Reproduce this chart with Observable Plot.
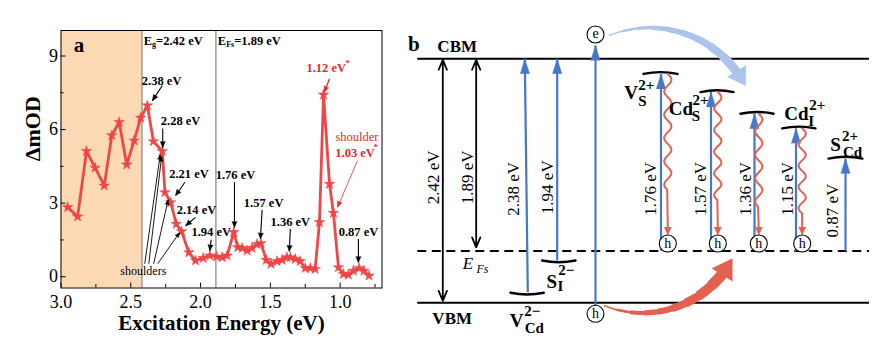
<!DOCTYPE html>
<html><head><meta charset="utf-8">
<script src="https://cdn.jsdelivr.net/npm/d3@7"></script>
<script src="https://cdn.jsdelivr.net/npm/@observablehq/plot@0.6"></script>
<style>
body{margin:0;background:#fff;}
#wrap{position:relative;width:889px;height:361px;overflow:hidden;background:#fff;}
#a{position:absolute;left:0;top:0;}
#b{position:absolute;left:400px;top:0;}
</style></head><body><div id="wrap"><div id="a"></div><div id="b"></div></div>
<script>
// ================= Panel a data =================
const energy = [2.952,2.881,2.817,2.755,2.690,2.636,2.583,2.529,2.476,2.429,2.381,2.338,2.274,2.255,2.214,2.174,2.136,2.084,2.036,1.981,1.933,1.886,1.845,1.810,1.762,1.733,1.702,1.666,1.631,1.595,1.567,1.529,1.495,1.452,1.416,1.381,1.357,1.321,1.286,1.250,1.214,1.179,1.148,1.119,1.076,1.048,1.012,0.976,0.941,0.905,0.864,0.829,0.793];
const deltaOD = [2.83,2.45,5.12,4.44,3.71,5.76,6.30,4.57,5.55,6.48,6.98,5.52,5.12,3.44,3.03,2.15,1.85,0.99,0.66,0.76,0.86,0.82,0.79,0.86,1.81,1.20,1.17,1.06,1.17,1.33,1.36,0.68,0.52,0.63,0.68,0.79,0.79,0.72,0.63,0.35,0.35,0.31,2.22,7.42,3.78,2.60,0.38,0.11,0.08,0.24,0.35,0.24,0.04];
const bandGap = 2.42, fermiGap = 1.89;
const xTicks = [3.0,2.5,2.0,1.5,1.0];
const xMinorTicks = [2.75,2.25,1.75,1.25,0.75];
const yTicks = [0,3,6,9];
const yMinorTicks = [1.5,4.5,7.5];
const peakLabels = [
  {t:"2.38 eV", x:2.279, y:8.0},
  {t:"2.28 eV", x:2.143, y:6.34},
  {t:"2.21 eV", x:2.083, y:4.19},
  {t:"2.14 eV", x:2.029, y:2.72},
  {t:"1.94 eV", x:1.924, y:1.81},
  {t:"1.76 eV", x:1.750, y:4.16},
  {t:"1.57 eV", x:1.548, y:3.01},
  {t:"1.36 eV", x:1.357, y:2.22},
  {t:"0.87 eV", x:0.869, y:1.84}
];
const peakArrows = [
  {x1:2.274,y1:7.80,x2:2.345,y2:7.18},
  {x1:2.271,y1:6.04,x2:2.271,y2:5.27},
  {x1:2.112,y1:3.85,x2:2.179,y2:3.31},
  {x1:2.036,y1:2.42,x2:2.107,y2:2.08},
  {x1:1.924,y1:1.51,x2:1.934,y2:1.06},
  {x1:1.757,y1:3.85,x2:1.757,y2:2.01},
  {x1:1.559,y1:2.72,x2:1.571,y2:1.54},
  {x1:1.357,y1:1.95,x2:1.364,y2:1.03},
  {x1:0.869,y1:1.54,x2:0.869,y2:0.58}
];
const shoulderLines = [
  {x1:2.400,y1:0.53,x2:2.289,y2:4.98},
  {x1:2.371,y1:0.53,x2:2.279,y2:4.90},
  {x1:2.336,y1:0.53,x2:2.232,y2:3.14},
  {x1:2.307,y1:0.53,x2:2.150,y2:1.80}
];
const redArrows = [
  {x1:1.076,y1:8.07,x2:1.114,y2:7.52,w:1.3},
  {x1:0.876,y1:4.73,x2:1.019,y2:2.83,w:0.8}
];
const redLabels = [
  {t:"1.12 eV", x:1.100, y:8.51, bold:true, size:12.5},
  {t:"*", x:0.945, y:8.72, bold:true, size:9},
  {t:"shoulder", x:0.879, y:5.71, bold:false, size:12.5},
  {t:"1.03 eV", x:0.893, y:5.06, bold:true, size:12.5},
  {t:"*", x:0.745, y:5.27, bold:true, size:9}
];
const headerLabels = [
  {main:"E", sub:"g", rest:"=2.42 eV", x:2.407, y:9.63, subW:4},
  {main:"E", sub:"Fs", rest:"=1.89 eV", x:1.876, y:9.63, subW:8}
];

// ================= Panel b data =================
const bandEdges = [{name:"CBM", E:2.42}, {name:"VBM", E:0}];
const fermiLevel = 0.515;
const diagramSpan = {x1:17.3, x2:469};
const bandLabels = [{t:"CBM", x:56.7, E:2.54}, {t:"VBM", x:51.7, E:-0.156}];
const gapArrows = [
  {label:"2.42 eV", x:42.3, top:2.41, bottom:0.02, lx:33.3, lE:1.245},
  {label:"1.89 eV", x:75.7, top:2.41, bottom:0.55, lx:66.7, lE:1.245}
];
const absorptions = [
  {label:"2.38 eV", x1:127.3, E1:0.105, x2:124.3, E2:2.42, lx:113.3, lE:1.13},
  {label:"1.94 eV", x1:156.7, E1:0.42, x2:156.7, E2:2.42, lx:146.7, lE:1.146},
  {label:"", x1:195, E1:-0.03, x2:195, E2:2.552, lx:195, lE:1},
  {label:"1.76 eV", x1:260.5, E1:0.515, x2:260.5, E2:2.27, lx:250, lE:1.13},
  {label:"1.57 eV", x1:310.5, E1:0.515, x2:310.5, E2:2.09, lx:300, lE:1.13},
  {label:"1.36 eV", x1:354, E1:0.515, x2:354, E2:1.875, lx:345, lE:1.13},
  {label:"1.15 eV", x1:395.5, E1:0.515, x2:395.5, E2:1.73, lx:386.7, lE:1.13},
  {label:"0.87 eV", x1:445, E1:0.515, x2:445, E2:1.43, lx:432.5, lE:0.915}
];
const defectLevels = [
  {name:"VCd", x1:110, x2:143.3, E:0.10, acceptor:true},
  {name:"SI", x1:141.7, x2:175, E:0.42, acceptor:true},
  {name:"VS", x1:243, x2:277, E:2.27, acceptor:false},
  {name:"CdS", x1:300, x2:333, E:2.09, acceptor:false},
  {name:"X", x1:340, x2:373, E:1.875, acceptor:false},
  {name:"CdI", x1:381.7, x2:415, E:1.73, acceptor:false},
  {name:"SCd", x1:428, x2:462, E:1.43, acceptor:false}
];
const defectLabelParts = [
  {t:"V", x:116, E:-0.18, size:19}, {t:"2−", x:131.7, E:-0.086, size:15}, {t:"Cd", x:133.8, E:-0.25, size:15},
  {t:"S", x:151.3, E:0.204, size:19}, {t:"2−", x:165.8, E:0.32, size:15}, {t:"I", x:160, E:0.162, size:15},
  {t:"V", x:230.7, E:2.084, size:19}, {t:"2+", x:245.7, E:2.158, size:15}, {t:"S", x:242, E:2.0, size:15},
  {t:"Cd", x:280.5, E:1.924, size:19}, {t:"2+", x:300, E:2.008, size:15}, {t:"S", x:295.3, E:1.85, size:15},
  {t:"Cd", x:395.8, E:1.877, size:19}, {t:"2+", x:416.7, E:1.96, size:15}, {t:"I", x:410.7, E:1.802, size:15},
  {t:"S", x:435, E:1.565, size:19}, {t:"2+", x:449.5, E:1.648, size:15}, {t:"Cd", x:452, E:1.49, size:15}
];
const carriers = [
  {t:"e", x:195, E:2.661}, {t:"h", x:195, E:-0.109},
  {t:"h", x:267.3, E:0.588}, {t:"h", x:317.3, E:0.588}, {t:"h", x:358.3, E:0.588}, {t:"h", x:401.7, E:0.588}
];
const relaxations = [
  {x:267.3, top:2.27, waveEnd:1.114, tip:0.672},
  {x:317.3, top:2.09, waveEnd:1.015, tip:0.672},
  {x:358.3, top:1.875, waveEnd:0.945, tip:0.672},
  {x:401.7, top:1.73, waveEnd:0.886, tip:0.672}
];
const transfers = [
  {x1:208.3, E1:2.65, x2:345, E2:2.155, bend:42, color:"#adc4ea", w0:1.5, w1:9, headLen:17, headHalf:11},
  {x1:203.3, E1:-0.027, x2:331.7, E2:0.436, bend:-42, color:"#e4604f", w0:1.5, w1:11, headLen:19, headHalf:12}
];

// ================= Rendering =================
const FONT = '"Liberation Serif","Times New Roman",serif';
const H = 361;
const RED = "#f04646", BLUE = "#4677c8", WAVE = "#e8604c", LABELRED = "#e8282b";

// ---- Panel a ----
const WA = 400;
const mA = {left:60.5, right:18.5, top:30, bottom:73.5};
const xDomA = [3.0, 0.70], yDomA = [-0.46, 10.04];
const sxA = Plot.scale({x:{domain:xDomA, range:[mA.left, WA - mA.right]}});
const syA = Plot.scale({y:{domain:yDomA, range:[H - mA.bottom, mA.top]}});
function rotOf(sx, sy, x1, y1, x2, y2) {
  const dx = sx.apply(x2) - sx.apply(x1), dy = sy.apply(y2) - sy.apply(y1);
  return Math.atan2(dx, -dy) * 180 / Math.PI;
}
const series = energy.map((e, i) => ({e, v: deltaOD[i]}));
const headA = (data, color, len, r) => Plot.vector(data, {
  x:"x2", y:"y2", rotate: d => rotOf(sxA, syA, d.x1, d.y1, d.x2, d.y2),
  length: len, r: r, shape: "spike", anchor: "end", fill: color, stroke: color, strokeWidth: 0.4
});

const plotA = Plot.plot({
  width: WA, height: H,
  marginLeft: mA.left, marginRight: mA.right, marginTop: mA.top, marginBottom: mA.bottom,
  style: {fontFamily: FONT, fontSize: "18px", color: "#000", background: "#fff"},
  x: {domain: xDomA, label: null},
  y: {domain: yDomA, label: null},
  marks: [
    Plot.rect([{x1: xDomA[0], x2: bandGap}], {x1:"x1", x2:"x2", fill:"#fdd9b5"}),
    Plot.ruleX([bandGap, fermiGap], {stroke:"#808080", strokeWidth:1.2}),
    Plot.ruleY(yTicks, {y: d => d, x1: xDomA[0], x2: xDomA[0] - 0.036, stroke:"#000"}),
    Plot.ruleY(yMinorTicks, {y: d => d, x1: xDomA[0], x2: xDomA[0] - 0.022, stroke:"#000"}),
    Plot.ruleX(xTicks, {x: d => d, y1: yDomA[0], y2: yDomA[0] + 0.2, stroke:"#000"}),
    Plot.ruleX(xMinorTicks, {x: d => d, y1: yDomA[0], y2: yDomA[0] + 0.14, stroke:"#000"}),
    Plot.axisX(xTicks, {tickSize: 0, tickPadding: 7, tickFormat: d3.format(".1f"), label: null, fontSize: 18}),
    Plot.axisY(yTicks, {tickSize: 0, tickPadding: 3, label: null, fontSize: 18}),
    Plot.frame({stroke:"#000", strokeWidth: 1}),
    Plot.line(series, {x:"e", y:"v", stroke: RED, strokeWidth: 2.8}),
    Plot.dot(series, {x:"e", y:"v", symbol:"star", r: 3.3, fill: RED, stroke: RED, strokeWidth: 0.5}),
    // annotations
    Plot.link(peakArrows, {x1:"x1", y1:"y1", x2:"x2", y2:"y2", stroke:"#000", strokeWidth: 1.1}),
    headA(peakArrows, "#000", 6, 2.6),
    Plot.link(shoulderLines, {x1:"x1", y1:"y1", x2:"x2", y2:"y2", stroke:"#000", strokeWidth: 0.9}),
    headA(shoulderLines, "#000", 5, 2),
    Plot.link(redArrows, {x1:"x1", y1:"y1", x2:"x2", y2:"y2", stroke: LABELRED, strokeWidth: d => d.w}),
    headA(redArrows, LABELRED, 6, 2.5),
    Plot.text(peakLabels, {x:"x", y:"y", text:"t", fontSize: 12.5, fontWeight:"bold", fill:"#000"}),
    Plot.text(redLabels.filter(d => d.bold), {x:"x", y:"y", text:"t", fontSize: d => d.size, fontWeight:"bold", fill: LABELRED}),
    Plot.text(redLabels.filter(d => !d.bold), {x:"x", y:"y", text:"t", fontSize: 12.5, fill: LABELRED}),
    Plot.text(["shoulders"], {x: 2.41, y: 0.24, text: d => d, fontSize: 12, fill:"#000"}),
    Plot.text(headerLabels, {x:"x", y:"y", text:"main", textAnchor:"start", fontSize: 12.5, fontWeight:"bold"}),
    Plot.text(headerLabels, {x:"x", y:"y", text:"sub", textAnchor:"start", dx: 8.3, dy: 3.5, fontSize: 8, fontWeight:"bold"}),
    ...headerLabels.map(h => Plot.text([h], {x:"x", y:"y", text:"rest", textAnchor:"start", dx: 8.3 + h.subW, fontSize: 12.5, fontWeight:"bold"})),
    Plot.text(["a"], {x: 2.871, y: 9.43, text: d => d, fontSize: 21, fontWeight:"bold"}),
    Plot.text(["ΔmOD"], {frameAnchor:"left", dx: -28.5, dy: 2, rotate: -90, text: d => d, fontSize: 22, fontWeight:"bold"}),
    Plot.text(["Excitation Energy (eV)"], {frameAnchor:"bottom", dy: 42, text: d => d, fontSize: 21, fontWeight:"bold"})
  ]
});
document.getElementById("a").appendChild(plotA);

// ---- Panel b ----
const WB = 489;
const xDomB = [0, WB], yDomB = [-0.582, 2.998];
const sxB = Plot.scale({x:{domain:xDomB, range:[0, WB]}});
const syB = Plot.scale({y:{domain:yDomB, range:[H, 0]}});
const rotB = (x1, E1, x2, E2) => rotOf(sxB, syB, x1, E1, x2, E2);

// tapered curved transfer arrows
const transferMarks = [];
for (const t of transfers) {
  const X1 = sxB.apply(t.x1), Y1 = syB.apply(t.E1), X2 = sxB.apply(t.x2), Y2 = syB.apply(t.E2);
  const chord = Math.hypot(X2 - X1, Y2 - Y1);
  const th = Math.abs(t.bend) * Math.PI / 180;
  const rad = chord / (2 * Math.sin(th));
  const arc = 2 * th * rad;
  const n = 9;
  for (let k = 0; k < n; k++) {
    transferMarks.push(Plot.arrow([t], {
      x1:"x1", y1:"E1", x2:"x2", y2:"E2", bend: t.bend, headLength: 0,
      insetStart: arc * 0.82 * k / n, insetEnd: t.headLen * 0.6,
      stroke: t.color, strokeWidth: t.w0 + (t.w1 - t.w0) * k / (n - 1), strokeLinecap: "butt"
    }));
  }
  const chordDeg = Math.atan2(Y2 - Y1, X2 - X1) * 180 / Math.PI;
  const headDeg = chordDeg + t.bend - Math.sign(t.bend) * (t.headLen / (2 * rad)) * 180 / Math.PI * 0.8;
  transferMarks.push(Plot.vector([t], {x:"x2", y:"E2", rotate: headDeg + 90, length: t.headLen, r: t.headHalf,
    shape:"spike", anchor:"end", fill: t.color, stroke: t.color, strokeWidth: 0.5}));
}

// wavy relaxation paths (decorative wave shape between level and hole)
const wavePts = [];
relaxations.forEach((r, i) => {
  const yTop = syB.apply(r.top), yEnd = syB.apply(r.waveEnd), yTip = syB.apply(r.tip);
  const L = yEnd - yTop, nPer = Math.max(1, Math.round(L / 23)), P = L / nPer;
  for (let s = 0; s <= L; s += 1) wavePts.push({z:i, x: r.x + 3.6 * Math.sin(2 * Math.PI * s / P), E: syB.invert(yTop + s)});
  wavePts.push({z:i, x: r.x, E: syB.invert(yTip - 5)});
});

const plotB = Plot.plot({
  width: WB, height: H, margin: 0,
  style: {fontFamily: FONT, fontSize: "17px", color: "#000", background: "transparent"},
  x: {domain: xDomB, axis: null},
  y: {domain: yDomB, axis: null},
  marks: [
    Plot.ruleY(bandEdges, {y:"E", x1: diagramSpan.x1, x2: diagramSpan.x2, stroke:"#000", strokeWidth: 2}),
    Plot.ruleY([fermiLevel], {y: d => d, x1: diagramSpan.x1, x2: diagramSpan.x2, stroke:"#000", strokeWidth: 2, strokeDasharray:"9,5.5"}),
    ...transferMarks,
    // gap double arrows
    Plot.arrow(gapArrows, {x1:"x", y1: d => (d.top + d.bottom) / 2, x2:"x", y2:"top", stroke:"#000", strokeWidth: 1.8, headLength: 9, headAngle: 45}),
    Plot.arrow(gapArrows, {x1:"x", y1: d => (d.top + d.bottom) / 2, x2:"x", y2:"bottom", stroke:"#000", strokeWidth: 1.8, headLength: 9, headAngle: 45}),
    Plot.text(gapArrows, {x:"lx", y:"lE", text:"label", rotate: -90, fontSize: 17}),
    // defect levels
    Plot.arrow(defectLevels.filter(d => d.acceptor), {x1:"x1", y1:"E", x2:"x2", y2:"E", bend: -12, headLength: 0, stroke:"#000", strokeWidth: 2.4}),
    Plot.arrow(defectLevels.filter(d => !d.acceptor), {x1:"x1", y1:"E", x2:"x2", y2:"E", bend: 12, headLength: 0, stroke:"#000", strokeWidth: 2.4}),
    // absorption arrows
    Plot.link(absorptions, {x1:"x1", y1:"E1", x2:"x2", y2:"E2", stroke: BLUE, strokeWidth: 2.2}),
    Plot.vector(absorptions, {x:"x2", y:"E2", rotate: d => rotB(d.x1, d.E1, d.x2, d.E2), length: 15, r: 4.6,
      shape:"spike", anchor:"end", fill: BLUE, stroke: BLUE, strokeWidth: 0.5}),
    Plot.text(absorptions.filter(d => d.label), {x:"lx", y:"lE", text:"label", rotate: -90, fontSize: 17}),
    // relaxation
    Plot.line(wavePts, {x:"x", y:"E", z:"z", stroke: WAVE, strokeWidth: 2, curve:"linear"}),
    Plot.vector(relaxations, {x:"x", y:"tip", rotate: 180, length: 8, r: 3.6, shape:"spike", anchor:"end", fill: WAVE, stroke: WAVE, strokeWidth: 0.5}),
    // carriers
    Plot.dot(carriers, {x:"x", y:"E", r: 8.5, fill:"#fff", stroke:"#000", strokeWidth: 1.1}),
    Plot.text(carriers, {x:"x", y:"E", text:"t", fontSize: 14, dy: -0.5}),
    // labels
    Plot.text(bandLabels, {x:"x", y:"E", text:"t", fontSize: 17, fontWeight:"bold"}),
    Plot.text(defectLabelParts, {x:"x", y:"E", text:"t", fontSize: d => d.size, fontWeight:"bold"}),
    Plot.text(["E"], {x: 67.5, y: 0.39, text: d => d, fontSize: 17, fontStyle:"italic"}),
    Plot.text(["Fs"], {x: 82, y: 0.33, text: d => d, fontSize: 12, fontStyle:"italic"}),
    Plot.text(["b"], {x: 13.3, y: 2.567, text: d => d, fontSize: 21, fontWeight:"bold"})
  ]
});
document.getElementById("b").appendChild(plotB);
</script>
</body></html>
